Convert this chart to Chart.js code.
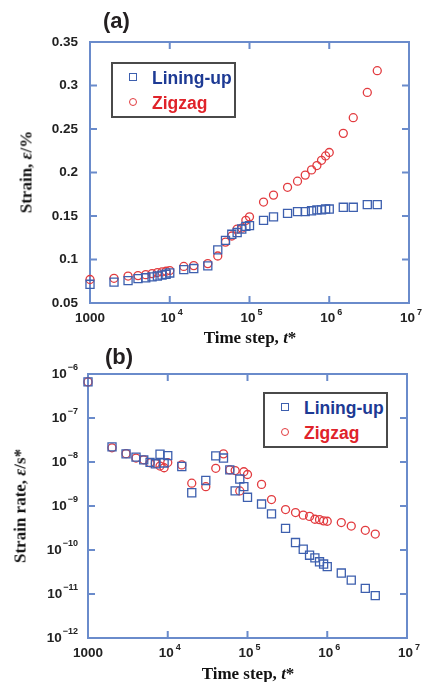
<!DOCTYPE html>
<html>
<head>
<meta charset="utf-8">
<script src="https://cdn.jsdelivr.net/npm/chart.js@4.4.1/dist/chart.umd.min.js"></script>
<style>
  html, body { margin: 0; padding: 0; background: #fff; }
  #fig { position: relative; width: 422px; height: 682px; overflow: hidden; }
  .panel { position: absolute; left: 0; width: 422px; }
  .panel canvas { position: absolute; left: 0; top: 0; }
  .tag { position: absolute; font: bold 22px "Liberation Sans", Arial, sans-serif; line-height: 22px; color: #231f20; }
  .axis-title { position: absolute; font: bold 17px "Liberation Serif", "Times New Roman", serif; line-height: 17px; white-space: nowrap; color: #111; }
  .ylab { transform: translate(-50%, -50%) rotate(-90deg); }
  .xlab { transform: translateX(-50%); }
  .legend { position: absolute; width: 125px; height: 56px; box-sizing: border-box; border: 2px solid #4a4a4a; background: #fff; }
  .legend .mark { position: absolute; width: 8px; height: 8px; box-sizing: border-box; border: 1.3px solid; }
  .legend .txt { position: absolute; font: bold 17.5px "Liberation Sans", Arial, sans-serif; line-height: 18px; white-space: nowrap; }
</style>
</head>
<body>
<div id="fig">
  <div class="panel" style="top:0;height:340px">
    <canvas id="strainChart" width="422" height="340"></canvas>
    <div class="tag" style="left:103px;top:10px">(a)</div>
    <div class="axis-title ylab" style="left:26px;top:172px">Strain, <i>ε</i>/%</div>
    <div class="axis-title xlab" style="left:250px;top:329px">Time step, <i>t</i>*</div>
    <div class="legend" id="legendA" style="left:111px;top:62px"></div>
  </div>
  <div class="panel" style="top:340px;height:342px">
    <canvas id="rateChart" width="422" height="342"></canvas>
    <div class="tag" style="left:105px;top:6px">(b)</div>
    <div class="axis-title ylab" style="left:20px;top:166px">Strain rate, <i>ε</i>/s*</div>
    <div class="axis-title xlab" style="left:248px;top:325px">Time step, <i>t</i>*</div>
    <div class="legend" id="legendB" style="left:263px;top:52px"></div>
  </div>
</div>
<script>
// time steps shared by both panels
var steps = [1e3, 2e3, 3e3, 4e3, 5e3, 6e3, 7e3, 8e3, 9e3, 1e4,
  1.5e4, 2e4, 3e4, 4e4, 5e4, 6e4, 7e4, 8e4, 9e4, 1e5,
  1.5e5, 2e5, 3e5, 4e5, 5e5, 6e5, 7e5, 8e5, 9e5, 1e6,
  1.5e6, 2e6, 3e6, 4e6];

// (a) strain, %
var liningStrain = [0.0715, 0.074, 0.0757, 0.078, 0.079, 0.080, 0.081, 0.082, 0.083, 0.0845,
  0.0884, 0.0896, 0.0927, 0.111, 0.122, 0.129, 0.131, 0.135, 0.138, 0.139,
  0.145, 0.149, 0.153, 0.155, 0.155, 0.156, 0.157, 0.157, 0.158, 0.158,
  0.160, 0.160, 0.163, 0.163];
var zigzagStrain = [0.077, 0.0784, 0.081, 0.0815, 0.0826, 0.0838, 0.085, 0.0857, 0.0865, 0.0873,
  0.092, 0.093, 0.0953, 0.104, 0.120, 0.127, 0.135, 0.136, 0.145, 0.149,
  0.166, 0.174, 0.183, 0.190, 0.197, 0.203, 0.208, 0.214, 0.219, 0.223,
  0.245, 0.263, 0.292, 0.317];

// (b) strain rate, 1/s*
var liningRate = [6.6e-7, 2.2e-8, 1.53e-8, 1.29e-8, 1.12e-8, 9.8e-9, 9.1e-9, 1.5e-8, 9.5e-9, 1.4e-8,
  7.9e-9, 2.0e-9, 3.8e-9, 1.38e-8, 1.23e-8, 6.6e-9, 2.2e-9, 4.1e-9, 2.75e-9, 1.58e-9,
  1.11e-9, 6.6e-10, 3.1e-10, 1.48e-10, 1.04e-10, 7.6e-11, 6.6e-11, 5.4e-11, 4.8e-11, 4.2e-11,
  3.0e-11, 2.06e-11, 1.34e-11, 9.2e-12];
var zigzagRate = [6.6e-7, 2.1e-8, 1.55e-8, 1.23e-8, 1.12e-8, 9.6e-9, 9.3e-9, 8.1e-9, 7.4e-9, 9.7e-9,
  8.6e-9, 3.3e-9, 2.75e-9, 7.2e-9, 1.53e-8, 6.6e-9, 6.4e-9, 2.2e-9, 6.0e-9, 5.2e-9,
  3.1e-9, 1.4e-9, 8.3e-10, 7.1e-10, 6.2e-10, 5.8e-10, 5.0e-10, 4.9e-10, 4.6e-10, 4.5e-10,
  4.2e-10, 3.5e-10, 2.8e-10, 2.3e-10];

var stepTicks = [1e3, 1e4, 1e5, 1e6, 1e7];
var strainTicks = [0.05, 0.1, 0.15, 0.2, 0.25, 0.3, 0.35];
var rateTicks = [1e-12, 1e-11, 1e-10, 1e-9, 1e-8, 1e-7, 1e-6];

var seriesNames = ["Lining-up", "Zigzag"];
var markColors = ["#3d5fae", "#e23b3f"];
var textColors = ["#1d3a94", "#e0232a"];
var frameColor = "#6a8bcb";
var tickFont = {family: "'Liberation Sans', Arial, sans-serif", size: 13.5, weight: "bold"};
var tickColor = "#222";
var baseFont = "bold 13.5px 'Liberation Sans', Arial, sans-serif";
var expFont = "bold 9px 'Liberation Sans', Arial, sans-serif";

// powers of ten are drawn by the powerLabels plugin (raised exponent)
function stepLabel(v) {
  return v === 1000 ? "1000" : "";
}

function pairs(xs, ys) {
  return xs.map(function (x, i) { return {x: x, y: ys[i]}; });
}

function fixTicks(values) {
  return function (s) { s.ticks = values.map(function (v) { return {value: v}; }); };
}

// blue box round the plot with short inward ticks on all four sides
var frameTicks = {
  id: "frameTicks",
  beforeDatasetsDraw: function (chart) {
    var ctx = chart.ctx, a = chart.chartArea, sx = chart.scales.x, sy = chart.scales.y, len = 7;
    ctx.save();
    ctx.strokeStyle = frameColor;
    ctx.lineWidth = 2;
    ctx.strokeRect(a.left, a.top, a.right - a.left, a.bottom - a.top);
    ctx.beginPath();
    sx.ticks.forEach(function (t) {
      var p = sx.getPixelForValue(t.value);
      ctx.moveTo(p, a.bottom); ctx.lineTo(p, a.bottom - len);
      ctx.moveTo(p, a.top); ctx.lineTo(p, a.top + len);
    });
    sy.ticks.forEach(function (t) {
      var p = sy.getPixelForValue(t.value);
      ctx.moveTo(a.left, p); ctx.lineTo(a.left + len, p);
      ctx.moveTo(a.right, p); ctx.lineTo(a.right - len, p);
    });
    ctx.stroke();
    ctx.restore();
  }
};

// "10" with a small raised exponent for every decade tick on log axes
var powerLabels = {
  id: "powerLabels",
  afterDraw: function (chart) {
    var ctx = chart.ctx, a = chart.chartArea;
    ctx.save();
    ctx.fillStyle = tickColor;
    ctx.textAlign = "left";
    ctx.textBaseline = "middle";
    ["x", "y"].forEach(function (id) {
      var s = chart.scales[id];
      if (s.type !== "logarithmic") return;
      var horiz = s.isHorizontal(), gap = horiz ? 2 : 1;
      s.ticks.forEach(function (t) {
        if (t.value === 1000) return;
        var e = String(Math.round(Math.log10(t.value))).replace("-", "\u2212");
        var p = s.getPixelForValue(t.value);
        ctx.font = baseFont;
        var wb = ctx.measureText("10").width;
        ctx.font = expFont;
        var we = ctx.measureText(e).width;
        var x0, y0;
        if (horiz) {
          x0 = p - (wb + gap + we) / 2 + 2;
          // same line centre Chart.js uses for the "1000" label
          y0 = a.bottom + s.options.ticks.padding + tickFont.size * 1.2 / 2;
        } else {
          x0 = a.left - s.options.ticks.padding - (wb + gap + we);
          y0 = p;
        }
        ctx.font = baseFont;
        ctx.fillText("10", x0, y0);
        ctx.font = expFont;
        ctx.fillText(e, x0 + wb + gap, y0 - 6);
      });
    });
    ctx.restore();
  }
};

function datasets(ys1, ys2) {
  return [
    {label: seriesNames[0], data: pairs(steps, ys1), pointStyle: "rect", pointRadius: 5.7,
      borderColor: markColors[0], backgroundColor: "rgba(0,0,0,0)", borderWidth: 1.3, clip: false},
    {label: seriesNames[1], data: pairs(steps, ys2), pointStyle: "circle", pointRadius: 4,
      borderColor: markColors[1], backgroundColor: "rgba(0,0,0,0)", borderWidth: 1.3, clip: false}
  ];
}

function buildChart(canvas, sets, yOpts, box) {
  return new Chart(canvas, {
    type: "scatter",
    data: {datasets: sets},
    options: {
      responsive: false,
      animation: false,
      events: [],
      layout: {padding: {top: box.top, right: box.right, left: 0, bottom: 0}},
      plugins: {legend: {display: false}, tooltip: {enabled: false}},
      scales: {
        x: {
          type: "logarithmic", min: 1e3, max: 1e7,
          afterBuildTicks: fixTicks(stepTicks),
          afterFit: function (s) { s.height = box.xh; s.paddingLeft = 0; s.paddingRight = 0; },
          grid: {display: false, drawTicks: false}, border: {display: false},
          ticks: {padding: 7, font: tickFont, color: tickColor, maxRotation: 0, autoSkip: false, callback: stepLabel}
        },
        y: Object.assign({
          afterFit: function (s) { s.width = box.yw; s.paddingTop = 0; s.paddingBottom = 0; },
          grid: {display: false, drawTicks: false}, border: {display: false}
        }, yOpts)
      }
    },
    plugins: [frameTicks, powerLabels]
  });
}

function buildLegend(chart, el) {
  chart.data.datasets.forEach(function (ds, i) {
    var m = document.createElement("span");
    m.className = "mark";
    m.style.left = "16px";
    m.style.top = (9 + 25 * i) + "px";
    m.style.borderColor = ds.borderColor;
    if (ds.pointStyle === "circle") m.style.borderRadius = "50%";
    var t = document.createElement("span");
    t.className = "txt";
    t.style.left = "39px";
    t.style.top = (5 + 25 * i) + "px";
    t.style.color = textColors[i];
    t.textContent = ds.label;
    el.appendChild(m);
    el.appendChild(t);
  });
}

var strainChart = buildChart(document.getElementById("strainChart"), datasets(liningStrain, zigzagStrain), {
  type: "linear", min: 0.05, max: 0.35,
  afterBuildTicks: fixTicks(strainTicks),
  ticks: {padding: 12, font: tickFont, color: tickColor, callback: function (v) { return String(v); }}
}, {top: 42, right: 13, xh: 37, yw: 90});

var rateChart = buildChart(document.getElementById("rateChart"), datasets(liningRate, zigzagRate), {
  type: "logarithmic", min: 1e-12, max: 1e-6,
  afterBuildTicks: fixTicks(rateTicks),
  ticks: {padding: 10, font: tickFont, color: tickColor, callback: function () { return ""; }}
}, {top: 34, right: 15, xh: 44, yw: 88});

buildLegend(strainChart, document.getElementById("legendA"));
buildLegend(rateChart, document.getElementById("legendB"));
</script>
</body>
</html>
